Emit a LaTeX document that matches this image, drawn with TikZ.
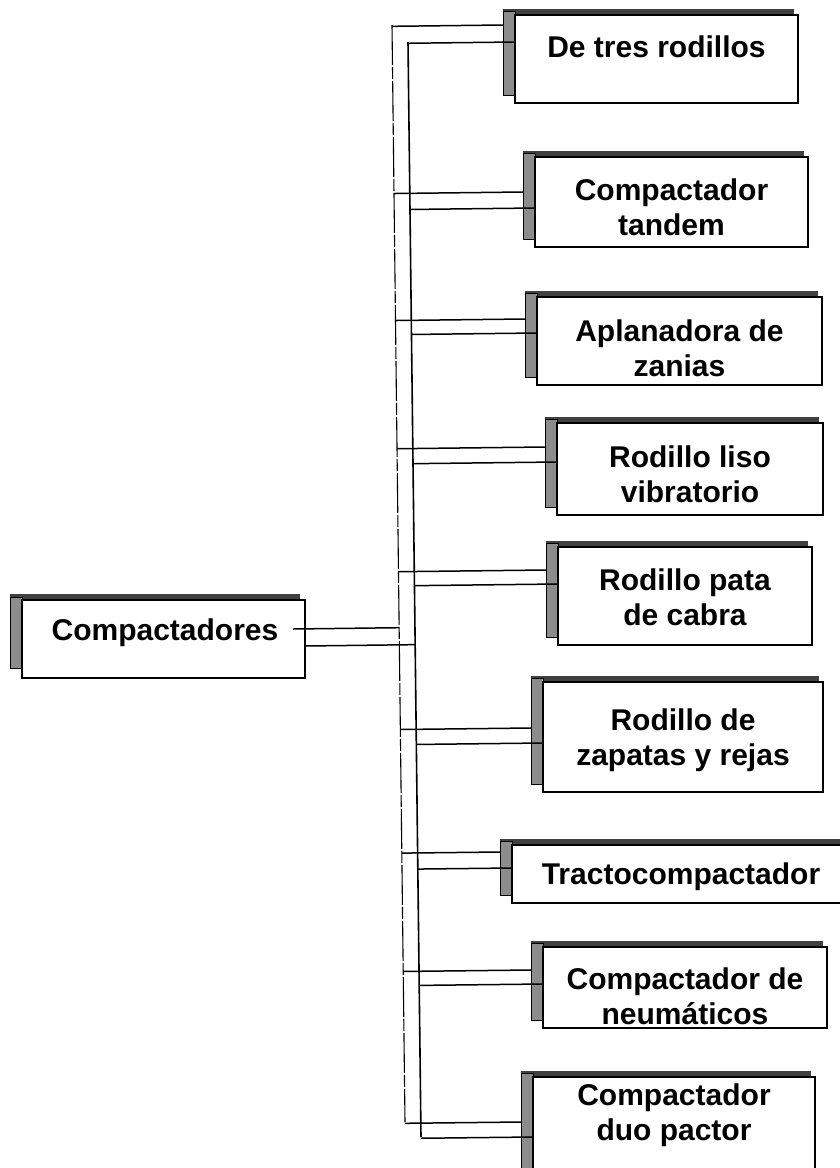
\documentclass[tikz,border=0pt]{standalone}
\usepackage{fontspec}
\setmainfont{Liberation Sans}
\usetikzlibrary{calc}
\tikzset{
  box/.style={draw=black, line width=1.6pt, fill=white, inner sep=0pt, outer sep=0pt, anchor=north west},
  lbl/.style={font=\bfseries\fontsize{30}{35}\selectfont, align=center, inner sep=0pt},
  topband/.style={fill=black!75},
  leftband/.style={fill=black!45, draw=black, line width=0.8pt},
  conn/.style={draw=black, line width=1.5pt},
  trunkL/.style={draw=black, line width=1.1pt, dash pattern=on 40pt off 2pt on 12pt off 2pt},
  trunkR/.style={draw=black, line width=1.6pt},
}
\begin{document}
\begin{tikzpicture}[x=1pt,y=-1pt]
\useasboundingbox (0,0) rectangle (839,1168);
\fill[white] (0,0) rectangle (839,1168);
% trunks
\coordinate (tLt) at (392,25);
\coordinate (tLb) at (405,1122);
\coordinate (tRt) at (408,42);
\coordinate (tRb) at (421,1137);
\draw[trunkL] (tLt) -- (tLb);
\draw[trunkR] (tRt) -- (tRb);
% root
\fill[topband] (10,594) rectangle (300,600);
\draw[leftband] (10,597) rectangle (22,668);
\node[box, minimum width=283pt, minimum height=78pt] (root) at (22,600) {};
\node[lbl] (troot) at (165,633) {Compactadores};
\coordinate (ru) at (293,629);
\coordinate (rl) at (305,646);
\draw[conn] (ru) -- ($(tLt)!(ru)!(tLb)$);
\draw[conn] (rl) -- ($(tRt)!(rl)!(tRb)$);
% children
\foreach \i/\L/\T/\R/\B/\ty/\yu/\yl/\txt in {
  1/515/15/798/103/47/25/42/{De tres rodillos},
  2/535/157/808/247/207/192/208/{Compactador\\tandem},
  3/537/297/822/385/348/319/333/{Aplanadora de\\zanias},
  4/557/423/823/515/474/447/462/{Rodillo liso\\vibratorio},
  5/558/547/812/645/597/570/584/{Rodillo pata\\de cabra},
  6/543/682/823/792/740/728/743/{Rodillo de\\zapatas y rejas},
  7/512/845/850/903/877/852/868/{Tractocompactador},
  8/543/947/827/1028/996/970/984/{Compactador de\\neumáticos},
  9/533/1077/815/1180/1115/1122/1137/{Compactador\\duo pactor}}{
  \pgfmathsetmacro\w{\R-\L}
  \pgfmathsetmacro\h{\B-\T}
  \fill[topband] (\L-12,\T-6) rectangle (\R-4,\T);
  \draw[leftband] (\L-12,\T-4) rectangle (\L,\B-8);
  \node[box, minimum width=\w pt, minimum height=\h pt] (b\i) at (\L,\T) {};
  \node[lbl] (t\i) at ({(\L+\R)/2},\ty) {\txt};
  \coordinate (u\i) at (\L-12,\yu);
  \coordinate (l\i) at (\L,\yl);
  \draw[conn] ($(tLt)!(u\i)!(tLb)$) -- (u\i);
  \draw[conn] ($(tRt)!(l\i)!(tRb)$) -- (l\i);
}
\end{tikzpicture}
\end{document}
